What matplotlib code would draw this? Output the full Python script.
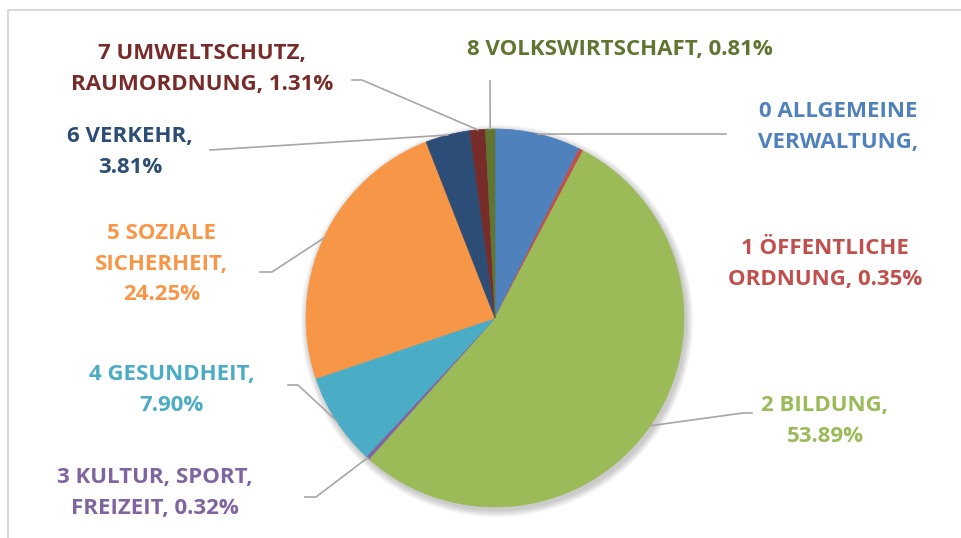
import matplotlib.pyplot as plt
import numpy as np

# shares of the budget per function (percent)
categories = ["0 ALLGEMEINE VERWALTUNG", "1 ÖFFENTLICHE ORDNUNG", "2 BILDUNG",
              "3 KULTUR, SPORT, FREIZEIT", "4 GESUNDHEIT", "5 SOZIALE SICHERHEIT",
              "6 VERKEHR", "7 UMWELTSCHUTZ, RAUMORDNUNG", "8 VOLKSWIRTSCHAFT"]
shares = [7.36, 0.35, 53.89, 0.32, 7.90, 24.25, 3.81, 1.31, 0.81]
label_texts = ["0 ALLGEMEINE\nVERWALTUNG,",
               "1 ÖFFENTLICHE\nORDNUNG, 0.35%",
               "2 BILDUNG,\n53.89%",
               "3 KULTUR, SPORT,\nFREIZEIT, 0.32%",
               "4 GESUNDHEIT,\n7.90%",
               "5 SOZIALE\nSICHERHEIT,\n24.25%",
               "6 VERKEHR,\n3.81%",
               "7 UMWELTSCHUTZ,\nRAUMORDNUNG, 1.31%",
               "8 VOLKSWIRTSCHAFT, 0.81%"]
slice_colors = ["#4F81BD", "#C0504D", "#9BBB59", "#8064A2", "#4BACC6",
                "#F79646", "#2C4D75", "#772C2A", "#5F7530"]

W, H = 962, 538
def py(y):
    # pixel row (from top) -> data y
    return H - y

fig = plt.figure(figsize=(W / 100, H / 100), dpi=100)
ax = fig.add_axes([0, 0, 1, 1])

cx, cy, r = 495, py(318), 189

# soft shadow
for k in range(6):
    ax.add_patch(plt.Circle((cx + 2, cy - 3), r + 1 + k * 1.2, color="black",
                            alpha=0.035, lw=0, zorder=1))

wedges, _ = ax.pie(shares, colors=slice_colors, startangle=90, counterclock=False,
                   center=(cx, cy), radius=r, frame=True,
                   wedgeprops=dict(linewidth=0.5, zorder=2))
for w, c in zip(wedges, slice_colors):
    w.set_edgecolor(c)
ax.set_xlim(0, W)
ax.set_ylim(0, H)
ax.set_aspect("equal")
ax.axis("off")

# chart frame (only top and left edges are visible)
ax.plot([8, 8, W], [0, py(10), py(10)], color="#D9D9D9", lw=1.5, zorder=0)

label_pos = [(838, 127), (825, 264), (825, 421), (155, 493), (172, 390),
             (162, 264), (130, 152), (202, 69), (620, 49)]
# leader line bends (pixel coords from top), None = no leader
leader_pts = [[(726, 134)], None, [(743, 413), (752, 413)], [(316, 497), (305, 497)],
              [(298, 385), (288, 385)], [(272, 272), (260, 272)], [(210, 150)],
              [(362, 80), (352, 80)], [(490, 81)]]

for i, w in enumerate(wedges):
    if leader_pts[i] is not None:
        ang = np.deg2rad((w.theta1 + w.theta2) / 2)
        xs = [cx + r * np.cos(ang)] + [p[0] for p in leader_pts[i]]
        ys = [cy + r * np.sin(ang)] + [py(p[1]) for p in leader_pts[i]]
        ax.plot(xs, ys, color="#A6A6A6", lw=1.2, zorder=3)
    lx, ly = label_pos[i]
    ax.text(lx, py(ly), label_texts[i], color=slice_colors[i], ha="center",
            va="center", fontsize=16, fontweight="bold", family="Open Sans",
            linespacing=1.62, zorder=4)

fig.savefig("out.png", dpi=100)
